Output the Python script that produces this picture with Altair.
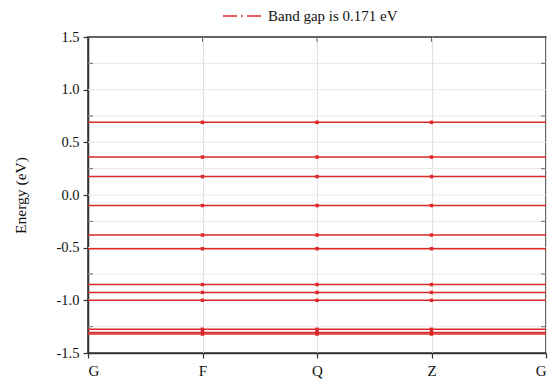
import altair as alt
import pandas as pd

# ---- data ----
kpoint_labels = ["G", "F", "Q", "Z", "G"]
kpoint_pos = [0, 1, 2, 3, 4]
inner_kpoints = [1, 2, 3]
band_energies = [0.69, 0.36, 0.175, -0.10, -0.38, -0.51,
                 -0.85, -0.925, -1.0, -1.275, -1.305, -1.32]
major_ticks = [-1.5, -1.0, -0.5, 0.0, 0.5, 1.0, 1.5]
minor_ticks = [-1.25, -0.75, -0.25, 0.25, 0.75, 1.25]
grid_lines = [-1.25, -1.0, -0.75, -0.5, -0.25, 0.0, 0.25, 0.5, 0.75, 1.0, 1.25]
legend_label = "Band gap is 0.171 eV"

W, H = 458, 316
RED = "#dc2a2a"
FONT = "Liberation Serif, Times New Roman, serif"

rows = []
for i, e in enumerate(band_energies):
    for p in kpoint_pos:
        rows.append({"band": i, "k": p, "E": e, "series": legend_label})
bands = pd.DataFrame(rows)
pts = bands[bands["k"].isin(inner_kpoints)]
grid_df = pd.DataFrame({"v": grid_lines})
minor_df = pd.DataFrame({"v": minor_ticks})
top_df = pd.DataFrame({"k": inner_kpoints})

xscale = alt.Scale(domain=[0, 4], nice=False, zero=False)
yscale = alt.Scale(domain=[-1.5, 1.5], nice=False, zero=False)

label_expr = "[" + ",".join("'%s'" % s for s in kpoint_labels) + "][round(datum.value)]"

x_axis = alt.Axis(values=kpoint_pos, labelExpr=label_expr, title=None, grid=True,
                  gridColor="#e2e2e2", gridWidth=1, tickSize=5, labelPadding=5,
                  labelFontSize=15)
y_axis = alt.Axis(values=major_ticks, title="Energy (eV)", grid=False,
                  labelExpr="replace(format(datum.value, '.1f'), '\u2212', '-')",
                  tickSize=5, labelPadding=4, labelFontSize=14.5, titlePadding=28,
                  titleFontSize=15.5, titleFontWeight="normal")

grid = alt.Chart(grid_df).mark_rule(color="#e8e8e8", strokeWidth=1).encode(
    y=alt.Y("v:Q", scale=yscale, axis=y_axis)
)

lines = alt.Chart(bands).mark_line(strokeWidth=1.5).encode(
    x=alt.X("k:Q", scale=xscale, axis=x_axis),
    y=alt.Y("E:Q", scale=yscale, axis=y_axis),
    detail="band:N",
    color=alt.Color("series:N", scale=alt.Scale(range=[RED]),
                    legend=alt.Legend(title=None, orient="none", legendX=134, legendY=-41,
                                      symbolType="stroke", symbolSize=1444,
                                      symbolStrokeWidth=1.5, symbolDash=[14, 4, 2, 4],
                                      labelFontSize=15, labelOffset=6, padding=0,
                                      labelColor="#111")),
)

points = alt.Chart(pts).mark_square(size=12, color=RED, opacity=1).encode(
    x=alt.X("k:Q", scale=xscale),
    y=alt.Y("E:Q", scale=yscale),
)

left_minor = alt.Chart(minor_df).mark_tick(orient="horizontal", size=5, thickness=1,
                                           color="#333").encode(
    y=alt.Y("v:Q", scale=yscale), x=alt.value(2.5))
right_minor = alt.Chart(minor_df).mark_tick(orient="horizontal", size=5, thickness=1,
                                            color="#333").encode(
    y=alt.Y("v:Q", scale=yscale), x=alt.value(W - 2.5))
top_ticks = alt.Chart(top_df).mark_tick(orient="vertical", size=5, thickness=1,
                                        color="#333").encode(
    x=alt.X("k:Q", scale=xscale), y=alt.value(2.5))

chart = alt.layer(grid, lines, points, left_minor, right_minor, top_ticks).properties(
    width=W, height=H,
    autosize=alt.AutoSizeParams(type="none"),
    padding={"left": 88, "top": 37, "right": 13, "bottom": 29},
).configure(font=FONT).configure_view(
    stroke="#333", strokeWidth=1.5
).configure_axis(
    labelFont=FONT, titleFont=FONT, labelColor="#111", titleColor="#111",
    domainColor="#333", domainWidth=1.5, tickColor="#333", tickWidth=1.2
).configure_legend(labelFont=FONT)

chart.save("out.html", embed_options={"renderer": "svg", "actions": False})
